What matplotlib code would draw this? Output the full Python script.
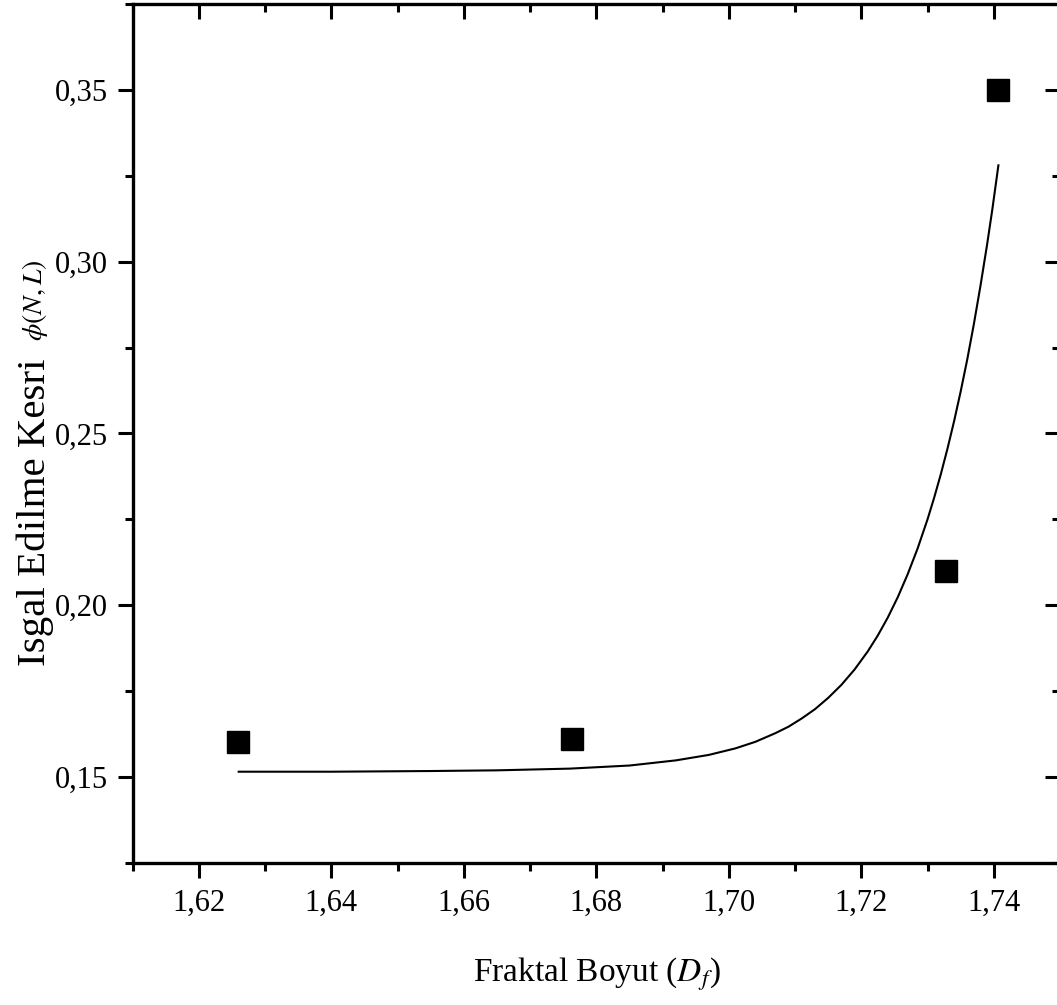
import numpy as np
import matplotlib
matplotlib.use("Agg")
import matplotlib.pyplot as plt
from matplotlib.ticker import MultipleLocator, FuncFormatter

# measured points
df_vals = [1.6259, 1.6763, 1.7328, 1.7406]
phi_vals = [0.1601, 0.1611, 0.2100, 0.3500]

# fitted curve
fit_x = [1.626, 1.640, 1.655, 1.665, 1.676, 1.685, 1.692, 1.697, 1.701, 1.704,
         1.707, 1.709, 1.711, 1.713, 1.715, 1.717, 1.719, 1.721, 1.7225, 1.724,
         1.7255, 1.727, 1.7285, 1.730, 1.731, 1.732, 1.733, 1.734, 1.735, 1.736,
         1.737, 1.738, 1.739, 1.7398, 1.7407]
fit_y = [0.1515, 0.1515, 0.1517, 0.1519, 0.1524, 0.1533, 0.1548, 0.1564, 0.1583, 0.1602,
         0.1627, 0.1646, 0.1670, 0.1697, 0.1730, 0.1768, 0.1813, 0.1866, 0.1912, 0.1964,
         0.2023, 0.2090, 0.2165, 0.2250, 0.2313, 0.2381, 0.2455, 0.2535, 0.2622, 0.2716,
         0.2819, 0.2931, 0.3051, 0.3155, 0.3281]

plt.rcParams['font.family'] = ['Liberation Serif', 'DejaVu Serif']
plt.rcParams['mathtext.fontset'] = 'stix'

W, H = 1057, 1005
fig = plt.figure(figsize=(W / 100, H / 100), dpi=100)
ax = fig.add_axes([132.7 / W, 1 - 862.7 / H, (1060 - 132.7) / W, (862.7 - 4.3) / H])

ax.plot(fit_x, fit_y, color='black', lw=1.5, zorder=2)
ax.plot(df_vals, phi_vals, 's', color='black', ms=16, zorder=3)

ax.set_xlim(1.61, 1.75)
ax.set_ylim(0.125, 0.375)
ax.xaxis.set_major_locator(MultipleLocator(0.02))
ax.xaxis.set_minor_locator(MultipleLocator(0.01))
ax.yaxis.set_major_locator(MultipleLocator(0.05))
ax.yaxis.set_minor_locator(MultipleLocator(0.025))
ax.xaxis.set_major_formatter(FuncFormatter(lambda v, p: f"{v:.2f}".replace('.', ',')))
ax.yaxis.set_major_formatter(FuncFormatter(lambda v, p: f"{v:.2f}".replace('.', ',')))

for s in ax.spines.values():
    s.set_linewidth(2.4)

ax.tick_params(which='both', top=True, right=True, width=2.2, labelsize=22)
ax.tick_params(which='major', length=11)
ax.tick_params(which='minor', length=5.5)
ax.tick_params(axis='x', which='both', direction='out', pad=8)
ax.tick_params(axis='y', which='both', direction='out', pad=7)
# top/right ticks point inside
for t in ax.xaxis.get_major_ticks() + ax.xaxis.get_minor_ticks():
    t.tick2line.set_marker(matplotlib.lines.TICKDOWN)
for t in ax.yaxis.get_major_ticks() + ax.yaxis.get_minor_ticks():
    t.tick2line.set_marker(matplotlib.lines.TICKLEFT)

fig.text(596.5 / W, 1 - 981.7 / H, r"Fraktal Boyut ($D_f$)", fontsize=24,
         ha='center', va='baseline')
fig.text(35 / W, 1 - 512.5 / H, "Isgal Edilme Kesri", fontsize=29.5,
         rotation=90, ha='center', va='center')
fig.text(35 / W, 1 - 300 / H, r"$\phi(N,L)$", fontsize=20,
         rotation=90, ha='center', va='center')

fig.savefig("out.png", dpi=100)
